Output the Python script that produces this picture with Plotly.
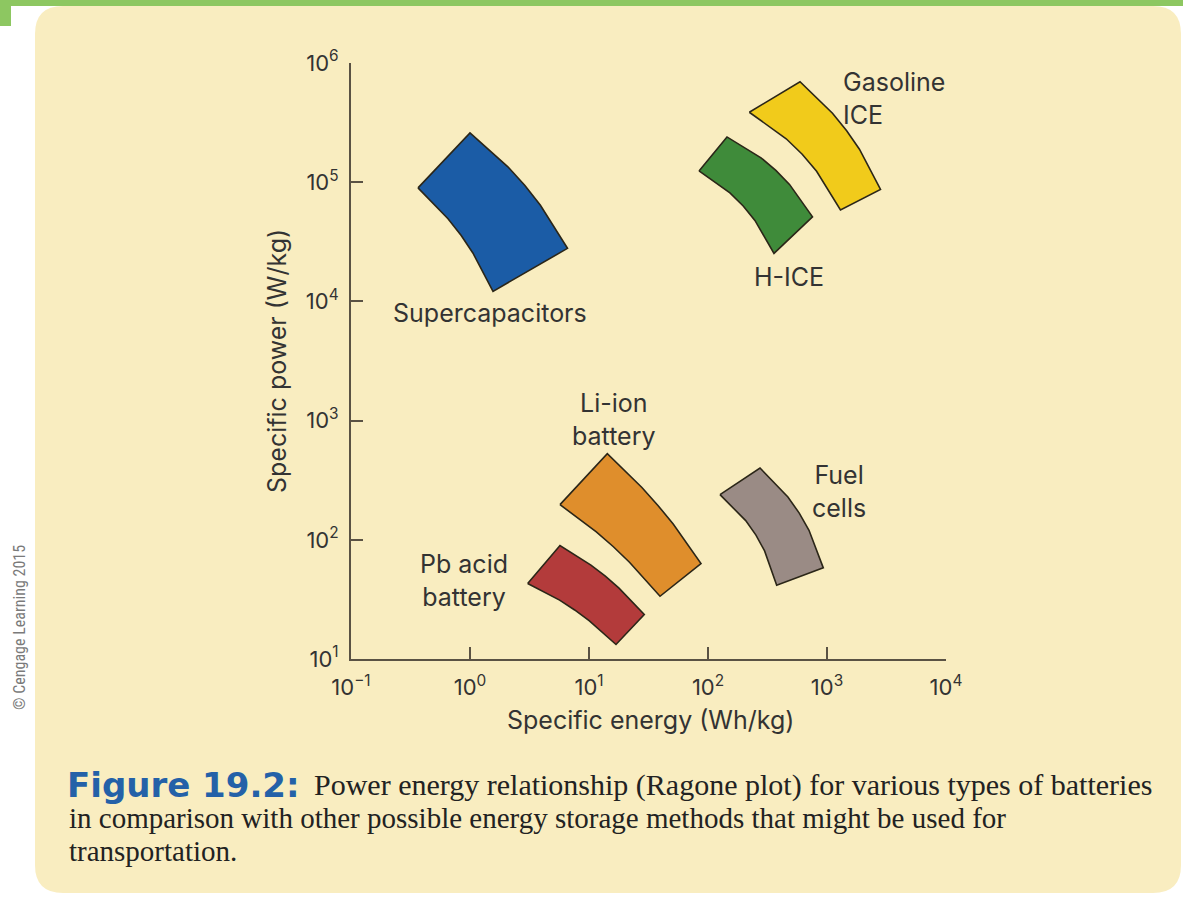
import plotly.graph_objects as go

# ---------------- data ----------------
# Each region: boundary points (specific energy Wh/kg, specific power W/kg)
supercap_energy = [0.3656, 1.0, 2.082, 2.893, 3.905, 6.597, 1.561, 1.060, 0.8435, 0.6533]
supercap_power = [89590, 259000, 134600, 93850, 64020, 27870, 12150, 25350, 35710, 49350]

gasoline_energy = [222.4, 593.2, 1112, 1463, 1873, 2816, 1298, 817.6, 618.9, 454.1]
gasoline_power = [386200, 697000, 378800, 270200, 189100, 87000, 58590, 123600, 171500, 231500]

hice_energy = [84.03, 144.4, 278.9, 371.7, 484.0, 755.3, 358.5, 247.8, 197.6, 152.8]
hice_power = [124300, 239700, 160200, 125800, 95850, 51190, 25300, 47750, 63110, 81210]

liion_energy = [5.705, 14.25, 27.83, 37.96, 51.00, 87.34, 39.51, 21.98, 16.03, 11.52]
liion_power = [197.3, 527.8, 274.9, 194.2, 135.6, 63.17, 33.60, 64.52, 87.44, 116.3]

pb_energy = [3.053, 5.705, 10.38, 13.72, 17.87, 29.15, 16.86, 10.02, 7.574, 5.660]
pb_power = [42.95, 89.42, 61.26, 49.54, 39.29, 23.60, 13.23, 21.02, 25.79, 31.16]

fuel_energy = [126.1, 273.5, 469.3, 584.5, 705.9, 930.8, 377.7, 298.9, 252.9, 207.4]
fuel_power = [239.3, 400.6, 228.9, 167.4, 120.1, 58.14, 41.55, 80.72, 109.4, 144.8]

region_names = ["Supercapacitors", "Gasoline ICE", "H-ICE", "Li-ion battery",
                "Pb acid battery", "Fuel cells"]
region_colors = ["#1b5ca6", "#f1cb1b", "#3f8b3a", "#df8e2c", "#b33b3b", "#9a8b85"]

x_tick_vals = [0.1, 1, 10, 100, 1000, 10000]
x_tick_text = ["10<sup>\u22121</sup>", "10<sup>0</sup>", "10<sup>1</sup>",
               "10<sup>2</sup>", "10<sup>3</sup>", "10<sup>4</sup>"]
y_tick_vals = [10, 100, 1000, 10000, 100000, 1000000]
y_tick_text = ["10<sup>1</sup>", "10<sup>2</sup>", "10<sup>3</sup>",
               "10<sup>4</sup>", "10<sup>5</sup>", "10<sup>6</sup>"]

x_title = "Specific energy (Wh/kg)"
y_title = "Specific power (W/kg)"
caption_head = "Figure 19.2:"
caption_lines = [
    "Power energy relationship (Ragone plot) for various types of batteries",
    "in comparison with other possible energy storage methods that might be used for",
    "transportation.",
]
credit = "\u00a9 Cengage Learning 2015"

# ---------------- layout helpers ----------------
W, H = 1183, 897
PL, PR, PT, PB = 351, 946, 63, 659  # plot area in pixels


def PX(px):
    return (px - PL) / (PR - PL)


def PY(py):
    return (PB - py) / (PB - PT)


AXIS_COLOR = "#5a5244"
TEXT_COLOR = "#333333"
OUTLINE = "#2b2618"
CREAM = "#f9edc0"
FONT = "Inter, Liberation Sans, Arial, sans-serif"
SERIF = "Liberation Serif, Times New Roman, serif"

fig = go.Figure()

regions = [
    (supercap_energy, supercap_power),
    (gasoline_energy, gasoline_power),
    (hice_energy, hice_power),
    (liion_energy, liion_power),
    (pb_energy, pb_power),
    (fuel_energy, fuel_power),
]
for (ex, py_), name, col in zip(regions, region_names, region_colors):
    fig.add_trace(go.Scatter(
        x=list(ex) + [ex[0]], y=list(py_) + [py_[0]],
        mode="lines", fill="toself", fillcolor=col,
        line=dict(color=OUTLINE, width=1.6),
        name=name, hoverinfo="name", showlegend=False,
    ))

# background shapes
x0, x1 = PX(35), PX(1181)
yt, yb = PY(6), PY(893)
rx, ry = 28 / (PR - PL), 28 / (PB - PT)
box_path = (f"M {x0+rx},{yt} L {x1-rx},{yt} Q {x1},{yt} {x1},{yt-ry} "
            f"L {x1},{yb+ry} Q {x1},{yb} {x1-rx},{yb} L {x0+rx},{yb} "
            f"Q {x0},{yb} {x0},{yb+ry} L {x0},{yt-ry} Q {x0},{yt} {x0+rx},{yt} Z")

shapes = [
    dict(type="path", xref="paper", yref="paper", path=box_path,
         fillcolor=CREAM, line=dict(width=0), layer="below"),
    dict(type="rect", xref="paper", yref="paper", x0=PX(0), x1=PX(1183),
         y0=PY(6), y1=PY(0), fillcolor="#8dc761", line=dict(width=0), layer="below"),
    dict(type="rect", xref="paper", yref="paper", x0=PX(0), x1=PX(11),
         y0=PY(26), y1=PY(0), fillcolor="#8dc761", line=dict(width=0), layer="below"),
]

lab_font = dict(family=FONT, size=25, color=TEXT_COLOR)
annotations = [
    dict(text="Gasoline<br>ICE", x=PX(841), y=PY(98), xanchor="left", yanchor="middle",
         align="left", font=lab_font),
    dict(text="H-ICE", x=PX(789), y=PY(277), xanchor="center", yanchor="middle",
         font=lab_font),
    dict(text="Supercapacitors", x=PX(490), y=PY(313), xanchor="center", yanchor="middle",
         font=lab_font),
    dict(text="Li-ion<br>battery", x=PX(614), y=PY(419), xanchor="center",
         yanchor="middle", font=lab_font),
    dict(text="Fuel<br>cells", x=PX(839), y=PY(491), xanchor="center",
         yanchor="middle", font=lab_font),
    dict(text="Pb acid<br>battery", x=PX(464), y=PY(580), xanchor="center",
         yanchor="middle", font=lab_font),
    # axis titles
    dict(text=x_title, x=PX(650), y=PY(720), xanchor="center", yanchor="middle",
         font=dict(family=FONT, size=25, color=TEXT_COLOR)),
    dict(text=y_title, x=PX(277), y=PY(361), xanchor="center", yanchor="middle",
         textangle=-90, font=dict(family=FONT, size=25, color=TEXT_COLOR)),
    # caption
    dict(text=f"<b>{caption_head}</b>", x=PX(65), y=PY(785), xanchor="left",
         yanchor="middle",
         font=dict(family="DejaVu Sans, Arial Black, sans-serif", size=34, color="#2461a8")),
    dict(text=caption_lines[0], x=PX(312), y=PY(785), xanchor="left", yanchor="middle",
         font=dict(family=SERIF, size=30, color="#222222")),
    dict(text=caption_lines[1], x=PX(67), y=PY(818), xanchor="left", yanchor="middle",
         font=dict(family=SERIF, size=29, color="#222222")),
    dict(text=caption_lines[2], x=PX(67), y=PY(851), xanchor="left", yanchor="middle",
         font=dict(family=SERIF, size=29, color="#222222")),
    # credit
    dict(text=credit, x=PX(19), y=PY(628), xanchor="center", yanchor="middle",
         textangle=-90,
         font=dict(family="Liberation Sans Narrow, Roboto Condensed, Liberation Sans, sans-serif",
                   size=16, color="#7a7a7a")),
]
for a in annotations:
    a.update(xref="paper", yref="paper", showarrow=False)

axis_common = dict(
    type="log", ticks="inside", ticklen=12, tickwidth=2, tickcolor=AXIS_COLOR,
    showline=True, linecolor=AXIS_COLOR, linewidth=2, showgrid=False,
    zeroline=False, tickfont=dict(family=FONT, size=22, color=TEXT_COLOR),
)

fig.update_layout(
    width=W, height=H, autosize=False,
    margin=dict(l=PL, r=W - PR, t=PT, b=H - PB, autoexpand=False),
    paper_bgcolor="white", plot_bgcolor="rgba(0,0,0,0)",
    xaxis=dict(range=[-1, 4], tickvals=x_tick_vals, ticktext=x_tick_text,
               ticklabelstandoff=8, **axis_common),
    yaxis=dict(range=[1, 6], tickvals=y_tick_vals, ticktext=y_tick_text,
               ticklabelstandoff=6, **axis_common),
    shapes=shapes, annotations=annotations, showlegend=False,
)

fig.write_html(
    "out.html",
    config={"displayModeBar": False},
    post_script="document.body.style.margin='0';document.body.style.overflow='hidden';",
)
